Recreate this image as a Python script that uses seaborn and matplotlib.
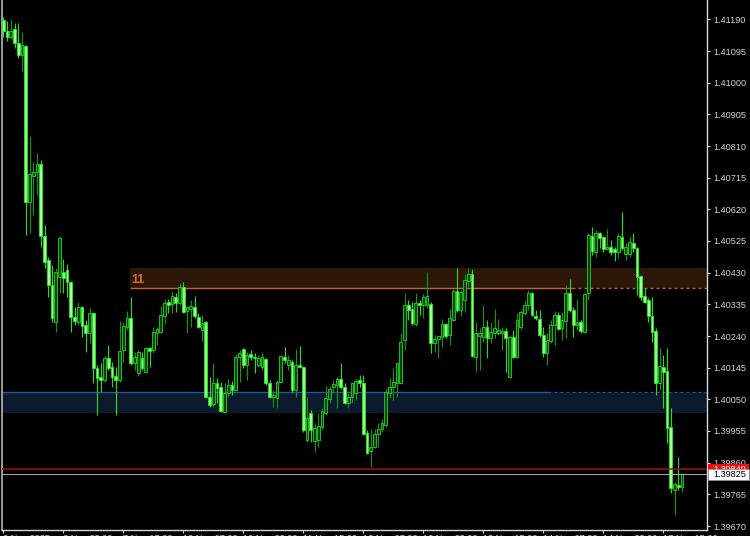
import numpy as np
import matplotlib
matplotlib.use('Agg')
import matplotlib.pyplot as plt
import seaborn as sns
from matplotlib.patches import Rectangle

# H1 candles (price units)
opens = [
    1.41188, 1.41155, 1.41137, 1.41161, 1.41119, 1.41083, 1.41110, 1.40642, 1.40720, 1.40732,
    1.40756, 1.40540, 1.40468, 1.40393, 1.40282, 1.40417, 1.40432, 1.40438, 1.40402, 1.40297,
    1.40282, 1.40327, 1.40273, 1.40249, 1.40309, 1.40144, 1.40117, 1.40108, 1.40174, 1.40147,
    1.40120, 1.40108, 1.40198, 1.40267, 1.40294, 1.40159, 1.40129, 1.40174, 1.40132, 1.40204,
    1.40198, 1.40249, 1.40252, 1.40300, 1.40342, 1.40336, 1.40357, 1.40339, 1.40387, 1.40315,
    1.40321, 1.40327, 1.40297, 1.40258, 1.40282, 1.40057, 1.40036, 1.40099, 1.40087, 1.40012,
    1.40069, 1.40093, 1.40078, 1.40177, 1.40201, 1.40153, 1.40186, 1.40177, 1.40153, 1.40147,
    1.40171, 1.40099, 1.40057, 1.40054, 1.40102, 1.40177, 1.40153, 1.40162, 1.40078, 1.40153,
    1.40147, 1.39928, 1.40009, 1.39925, 1.39928, 1.39967, 1.40009, 1.40051, 1.40087, 1.40093,
    1.40111, 1.40087, 1.40039, 1.40057, 1.40069, 1.40108, 1.40099, 1.39949, 1.39895, 1.39907,
    1.39946, 1.39961, 1.39973, 1.40069, 1.40087, 1.40099, 1.40099, 1.40228, 1.40333, 1.40321,
    1.40276, 1.40339, 1.40333, 1.40333, 1.40336, 1.40219, 1.40231, 1.40237, 1.40276, 1.40243,
    1.40288, 1.40375, 1.40318, 1.40348, 1.40405, 1.40426, 1.40177, 1.40240, 1.40237, 1.40267,
    1.40234, 1.40249, 1.40249, 1.40249, 1.40255, 1.40117, 1.40237, 1.40177, 1.40267, 1.40309,
    1.40333, 1.40369, 1.40300, 1.40291, 1.40243, 1.40189, 1.40225, 1.40273, 1.40303, 1.40264,
    1.40285, 1.40369, 1.40318, 1.40273, 1.40282, 1.40252, 1.40369, 1.40540, 1.40492, 1.40549,
    1.40537, 1.40501, 1.40507, 1.40501, 1.40492, 1.40537, 1.40486, 1.40486, 1.40519, 1.40504,
    1.40420, 1.40360, 1.40348, 1.40300, 1.40255, 1.40099, 1.40147, 1.40135, 1.39967, 1.39778,
    1.39793, 1.39787,
]
highs = [
    1.41197, 1.41185, 1.41188, 1.41179, 1.41179, 1.41152, 1.41113, 1.40840, 1.40762, 1.40789,
    1.40768, 1.40573, 1.40477, 1.40453, 1.40444, 1.40540, 1.40471, 1.40456, 1.40405, 1.40327,
    1.40342, 1.40330, 1.40288, 1.40324, 1.40312, 1.40153, 1.40159, 1.40180, 1.40213, 1.40162,
    1.40147, 1.40285, 1.40282, 1.40315, 1.40357, 1.40192, 1.40198, 1.40192, 1.40207, 1.40207,
    1.40267, 1.40267, 1.40330, 1.40351, 1.40351, 1.40375, 1.40369, 1.40399, 1.40402, 1.40330,
    1.40348, 1.40360, 1.40309, 1.40303, 1.40285, 1.40117, 1.40159, 1.40114, 1.40102, 1.40099,
    1.40111, 1.40105, 1.40186, 1.40198, 1.40204, 1.40192, 1.40198, 1.40189, 1.40183, 1.40192,
    1.40174, 1.40108, 1.40078, 1.40108, 1.40183, 1.40207, 1.40183, 1.40168, 1.40201, 1.40210,
    1.40150, 1.40057, 1.40018, 1.39979, 1.40009, 1.40024, 1.40090, 1.40090, 1.40108, 1.40117,
    1.40159, 1.40099, 1.40069, 1.40102, 1.40111, 1.40123, 1.40123, 1.39958, 1.39961, 1.39961,
    1.39979, 1.39991, 1.40084, 1.40114, 1.40144, 1.40159, 1.40249, 1.40369, 1.40348, 1.40342,
    1.40369, 1.40348, 1.40366, 1.40432, 1.40342, 1.40243, 1.40237, 1.40291, 1.40279, 1.40321,
    1.40381, 1.40444, 1.40378, 1.40426, 1.40444, 1.40441, 1.40282, 1.40264, 1.40333, 1.40288,
    1.40282, 1.40321, 1.40291, 1.40267, 1.40264, 1.40243, 1.40258, 1.40309, 1.40318, 1.40345,
    1.40378, 1.40372, 1.40318, 1.40318, 1.40267, 1.40249, 1.40288, 1.40315, 1.40312, 1.40312,
    1.40393, 1.40411, 1.40327, 1.40351, 1.40288, 1.40369, 1.40549, 1.40567, 1.40558, 1.40552,
    1.40540, 1.40561, 1.40528, 1.40507, 1.40549, 1.40612, 1.40519, 1.40537, 1.40549, 1.40507,
    1.40423, 1.40384, 1.40354, 1.40357, 1.40264, 1.40204, 1.40183, 1.40204, 1.40024, 1.39802,
    1.39877, 1.39826,
]
lows = [
    1.41137, 1.41125, 1.41131, 1.41104, 1.41074, 1.41035, 1.40543, 1.40549, 1.40603, 1.40663,
    1.40507, 1.40444, 1.40357, 1.40282, 1.40252, 1.40369, 1.40369, 1.40357, 1.40252, 1.40273,
    1.40273, 1.40237, 1.40192, 1.40219, 1.40099, 1.40003, 1.40072, 1.40102, 1.40138, 1.40087,
    1.40003, 1.40102, 1.40162, 1.40258, 1.40153, 1.40138, 1.40120, 1.40138, 1.40129, 1.40147,
    1.40189, 1.40213, 1.40249, 1.40276, 1.40309, 1.40309, 1.40312, 1.40333, 1.40309, 1.40249,
    1.40267, 1.40294, 1.40264, 1.40225, 1.40054, 1.40027, 1.40027, 1.40039, 1.40012, 1.40009,
    1.40057, 1.40063, 1.40075, 1.40102, 1.40144, 1.40108, 1.40168, 1.40129, 1.40147, 1.40138,
    1.40093, 1.40054, 1.40027, 1.40024, 1.40099, 1.40159, 1.40138, 1.40072, 1.40057, 1.40144,
    1.39952, 1.39922, 1.39922, 1.39892, 1.39907, 1.39961, 1.40003, 1.40039, 1.40069, 1.40024,
    1.40081, 1.40036, 1.40024, 1.40039, 1.40048, 1.40087, 1.39943, 1.39886, 1.39847, 1.39904,
    1.39907, 1.39952, 1.39967, 1.40054, 1.40048, 1.40057, 1.40096, 1.40198, 1.40288, 1.40273,
    1.40270, 1.40303, 1.40294, 1.40324, 1.40189, 1.40192, 1.40174, 1.40207, 1.40234, 1.40213,
    1.40285, 1.40312, 1.40300, 1.40312, 1.40387, 1.40177, 1.40132, 1.40138, 1.40222, 1.40174,
    1.40219, 1.40234, 1.40243, 1.40198, 1.40132, 1.40114, 1.40174, 1.40174, 1.40261, 1.40303,
    1.40318, 1.40300, 1.40288, 1.40237, 1.40177, 1.40153, 1.40219, 1.40213, 1.40258, 1.40228,
    1.40234, 1.40312, 1.40237, 1.40258, 1.40249, 1.40249, 1.40348, 1.40483, 1.40477, 1.40504,
    1.40492, 1.40498, 1.40483, 1.40465, 1.40474, 1.40498, 1.40468, 1.40477, 1.40492, 1.40363,
    1.40348, 1.40339, 1.40282, 1.40222, 1.40063, 1.40078, 1.40024, 1.39919, 1.39769, 1.39703,
    1.39778, 1.39772,
]
closes = [
    1.41155, 1.41137, 1.41155, 1.41119, 1.41083, 1.41113, 1.40642, 1.40726, 1.40732, 1.40756,
    1.40540, 1.40462, 1.40393, 1.40294, 1.40432, 1.40534, 1.40414, 1.40402, 1.40297, 1.40285,
    1.40327, 1.40270, 1.40249, 1.40309, 1.40144, 1.40114, 1.40108, 1.40174, 1.40144, 1.40117,
    1.40108, 1.40195, 1.40270, 1.40294, 1.40159, 1.40177, 1.40192, 1.40144, 1.40204, 1.40195,
    1.40252, 1.40261, 1.40303, 1.40339, 1.40333, 1.40360, 1.40339, 1.40387, 1.40312, 1.40327,
    1.40330, 1.40300, 1.40267, 1.40279, 1.40057, 1.40033, 1.40099, 1.40084, 1.40015, 1.40069,
    1.40093, 1.40078, 1.40177, 1.40189, 1.40153, 1.40183, 1.40177, 1.40174, 1.40174, 1.40177,
    1.40099, 1.40057, 1.40063, 1.40102, 1.40180, 1.40168, 1.40168, 1.40078, 1.40153, 1.40147,
    1.39958, 1.39994, 1.39958, 1.39964, 1.39970, 1.40015, 1.40054, 1.40081, 1.40096, 1.40111,
    1.40087, 1.40039, 1.40057, 1.40099, 1.40105, 1.40099, 1.39946, 1.39889, 1.39907, 1.39946,
    1.39961, 1.39979, 1.40072, 1.40087, 1.40102, 1.40159, 1.40222, 1.40333, 1.40318, 1.40279,
    1.40339, 1.40333, 1.40357, 1.40360, 1.40219, 1.40231, 1.40240, 1.40276, 1.40240, 1.40294,
    1.40375, 1.40318, 1.40372, 1.40408, 1.40426, 1.40180, 1.40249, 1.40249, 1.40267, 1.40234,
    1.40252, 1.40264, 1.40258, 1.40255, 1.40234, 1.40237, 1.40177, 1.40288, 1.40312, 1.40333,
    1.40369, 1.40303, 1.40294, 1.40243, 1.40189, 1.40228, 1.40273, 1.40303, 1.40261, 1.40288,
    1.40369, 1.40318, 1.40273, 1.40282, 1.40255, 1.40366, 1.40543, 1.40495, 1.40549, 1.40534,
    1.40501, 1.40507, 1.40492, 1.40492, 1.40540, 1.40504, 1.40507, 1.40522, 1.40504, 1.40417,
    1.40357, 1.40342, 1.40300, 1.40252, 1.40099, 1.40150, 1.40132, 1.39964, 1.39784, 1.39796,
    1.39787, 1.39825,
]

# axis ticks / labels
price_ticks = [1.39670, 1.39765, 1.39860, 1.39955, 1.40050, 1.40145, 1.40240, 1.40335, 1.40430,
               1.40525, 1.40620, 1.40715, 1.40810, 1.40905, 1.41000, 1.41095, 1.41190]
time_tick_bars = [0, 16, 32, 48, 64, 80, 96, 112, 128, 144, 160, 176]
time_tick_labels = ['6 Nov 2025', '6 Nov 23:00', '7 Nov 15:00', '10 Nov 07:00', '10 Nov 23:00',
                    '11 Nov 15:00', '12 Nov 07:00', '12 Nov 23:00', '13 Nov 15:00',
                    '14 Nov 07:00', '14 Nov 23:00', '17 Nov 15:00']

# zones and price lines
supply_zone = (1.40384, 1.40444)   # bottom, top
supply_start_bar = 34
supply_label = '11'
demand_zone = (1.40008, 1.40072)
ask_price = 1.39840
bid_price = 1.39825

sns.set_theme(style='dark', rc={'axes.facecolor': 'black', 'figure.facecolor': 'black'})
plt.rcParams['font.family'] = ['Liberation Sans', 'DejaVu Sans']

fig = plt.figure(figsize=(7.5, 5.36), dpi=100)
ax = fig.add_axes([2 / 750, 6.5 / 536, 705 / 750, 529.5 / 536])
ax.set_facecolor('black')
ax.grid(False)

x_lo, x_hi = -0.35, 187.65
ax.set_xlim(x_lo, x_hi)
ax.set_ylim(1.396595, 1.41248)

o = np.array(opens)
h = np.array(highs)
l = np.array(lows)
c = np.array(closes)
x = np.arange(len(o))
up = c >= o

# demand zone (blue)
ax.add_patch(Rectangle((x_lo, demand_zone[0]), x_hi - x_lo, demand_zone[1] - demand_zone[0],
                       facecolor='#0b1a2c', edgecolor='none', zorder=0))
ax.hlines(demand_zone[1], x_lo, 145.3, color='#2358a8', lw=1.0, zorder=1)
ax.hlines(demand_zone[1], 145.3, x_hi, color='#2358a8', lw=0.9,
          linestyles=(0, (2.4, 2.4)), zorder=1)

# supply zone (brown)
ax.add_patch(Rectangle((supply_start_bar - 0.2, supply_zone[0]), x_hi - supply_start_bar + 0.2,
                       supply_zone[1] - supply_zone[0],
                       facecolor='#2c1709', edgecolor='none', zorder=0))
ax.hlines(supply_zone[0], supply_start_bar - 0.2, 151.7, color='#c8641e', lw=1.0, zorder=1)
ax.hlines(supply_zone[0], 151.7, x_hi, color='#c8641e', lw=0.9,
          linestyles=(0, (2.4, 2.4)), zorder=1)
ax.text(supply_start_bar + 0.2, 1.40408, supply_label, color='#d2691e', fontsize=9,
        fontweight='bold', ha='left', va='center', zorder=2)

# candles
bull_wick, bear_wick = '#0a9a0a', '#1ee01e'
ax.vlines(x[up], l[up], h[up], color=bull_wick, lw=0.8, zorder=3)
ax.vlines(x[~up], l[~up], h[~up], color=bear_wick, lw=0.8, zorder=3)
body_lo = np.minimum(o, c)
body_h = np.maximum(np.abs(c - o), 0.00003)
ax.bar(x[up], body_h[up], bottom=body_lo[up], width=0.72, color='#0a420a',
       edgecolor='#1ed81e', linewidth=0.6, zorder=4)
ax.bar(x[~up], body_h[~up], bottom=body_lo[~up], width=0.72, color='#a4ff98',
       edgecolor='#10f810', linewidth=0.6, zorder=4)

# ask / bid lines
ax.axhline(ask_price, color='#a00c0c', lw=1.1, zorder=5)
ax.axhline(bid_price, color='#a8b0b8', lw=0.7, zorder=5)

# axes styling
ax.spines['top'].set_visible(False)
ax.spines['left'].set_color('#b8b8b8')
ax.spines['left'].set_linewidth(1.2)
ax.spines['right'].set_color('#d8d8d8')
ax.spines['right'].set_linewidth(1.0)
ax.spines['bottom'].set_color('#d8d8d8')
ax.spines['bottom'].set_linewidth(1.0)

ax.yaxis.tick_right()
ax.set_yticks(price_ticks)
ax.set_yticklabels([f'{p:.5f}' for p in price_ticks])
ax.tick_params(axis='y', which='both', right=True, left=False, direction='out', length=2.2,
               width=0.8, colors='#d4d4d4', labelsize=6.6, pad=2.2)
ax.set_xticks(time_tick_bars)
ax.set_xticklabels(time_tick_labels)
ax.tick_params(axis='x', bottom=True, direction='out', length=2.2, width=0.8,
               colors='#d4d4d4', labelsize=6.6, pad=1.2)
plt.setp(ax.get_xticklabels(), ha='left')

# price labels on the right scale (ask label sits mostly under the bid label)
trans = ax.get_yaxis_transform()
ax.add_patch(Rectangle((1.0015, ask_price - 0.00017), 0.058, 0.00034, transform=trans,
                       facecolor='#f01010', edgecolor='none', clip_on=False, zorder=6))
ax.text(1.009, ask_price, f'{ask_price:.5f}', transform=trans, color='white', fontsize=6.6,
        va='center', ha='left', zorder=7, clip_on=False)
ax.add_patch(Rectangle((1.0015, bid_price - 0.00016), 0.058, 0.00033, transform=trans,
                       facecolor='white', edgecolor='#909090', linewidth=0.5,
                       clip_on=False, zorder=8))
ax.text(1.009, bid_price, f'{bid_price:.5f}', transform=trans, color='black', fontsize=6.6,
        va='center', ha='left', zorder=9, clip_on=False)

fig.savefig('out.png', dpi=100, facecolor='black')
